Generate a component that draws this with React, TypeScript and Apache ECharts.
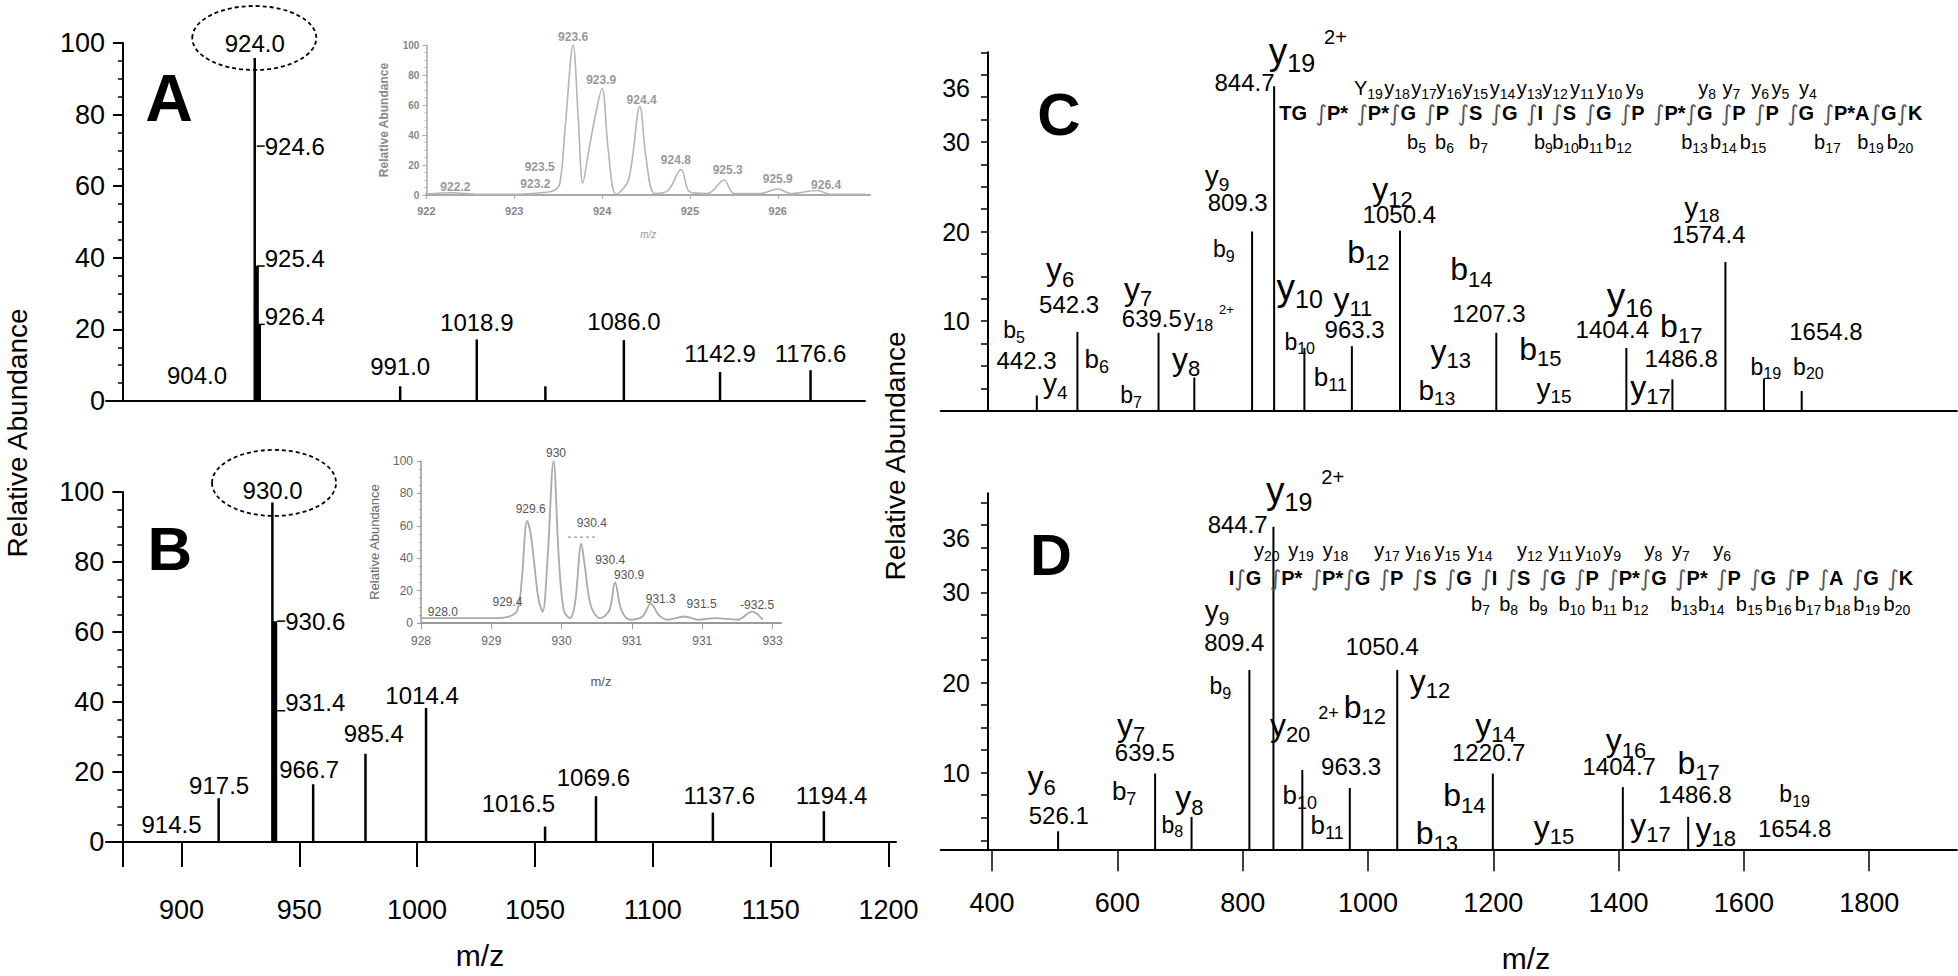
import React, { useEffect, useRef } from 'react';
import * as echarts from 'echarts';

const FONT = '"Liberation Sans", Arial, Helvetica, sans-serif';
const BLACK = '#000';

// ---------------- Panel A : precursor spectrum ----------------
// positions are read against the drawn m/z axis; texts are the printed peak labels
const aStickPos = [931.1, 992.8, 1025.3, 1054.4, 1087.7, 1128.5, 1166.9];
const aStickHeight = [95.8, 4.1, 17.2, 4.1, 17.0, 8.1, 8.6];
const aShoulderPos = [932.0, 932.9];
const aShoulderHeight = [37.7, 21.4];
const aSideLabel = ['924.6', '925.4', '926.4'];
const aSideHeight = [71.2, 37.7, 21.4];
const aSideAnchor = ['middle', 'bottom', 'bottom'];
const aPeakLabel = ['924.0', '904.0', '991.0', '1018.9', '1086.0', '1142.9', '1176.6'];
const aPeakLabelX = [931.1, 906.6, 992.8, 1025.3, 1087.7, 1128.5, 1166.9];
const aPeakLabelY = [100.0, 7.1, 9.7, 21.9, 22.2, 13.3, 13.3];
const aCircled = [930.9, 101.4];

// ---------------- Panel B ----------------
const bStickPos = [915.8, 938.6, 955.9, 978.1, 1003.8, 1054.3, 1075.9, 1125.5, 1172.6];
const bStickHeight = [12.5, 97.0, 16.5, 25.2, 38.3, 4.4, 13.1, 8.4, 8.8];
const bShoulderPos = [939.7];
const bShoulderHeight = [63.1];
const bSideLabel = ['930.6', '931.4'];
const bSideHeight = [63.1, 37.5];
const bSideAnchor = ['middle', 'bottom'];
const bPeakLabel = ['930.0', '914.5', '917.5', '966.7', '985.4', '1014.4', '1016.5', '1069.6', '1137.6', '1194.4'];
const bPeakLabelX = [938.7, 895.8, 916.0, 954.2, 981.6, 1002.1, 1043.0, 1074.8, 1128.2, 1175.9];
const bPeakLabelY = [100.5, 4.9, 16.1, 20.7, 31.0, 42.0, 10.9, 18.4, 13.3, 13.3];
const bCircled = [939.3, 102.6];
const bTickValues = [875, 900, 950, 1000, 1050, 1100, 1150, 1200];
const bTickLabels = [900, 950, 1000, 1050, 1100, 1150, 1200];
const abYTicks = [0, 20, 40, 60, 80, 100];

// ---------------- Inset of A (isotope envelope) ----------------
const insetAX = [921.95, 922.3, 922.6, 923.0, 923.3, 923.45, 923.52, 923.58, 923.67, 923.73, 923.78, 923.85, 923.92, 924.0, 924.07, 924.16, 924.3, 924.43, 924.5, 924.6, 924.75, 924.9, 925.0, 925.2, 925.39, 925.5, 925.8, 926.0, 926.15, 926.45, 926.6, 927.0];
const insetAY = [0.5, 1.5, 0.5, 0.5, 1.5, 3, 8, 45, 100, 50, 8, 30, 52, 71, 30, 0.5, 10, 59, 25, 1, 3, 17, 2, 1, 10, 1, 1, 4, 1, 3, 0.5, 0.5];
const insetALabel = ['923.6', '923.9', '924.4', '923.5', '923.2', '922.2', '924.8', '925.3', '925.9', '926.4'];
const insetALabelX = [923.67, 923.99, 924.45, 923.29, 923.24, 922.33, 924.84, 925.43, 926.0, 926.55];
const insetALabelY = [105.5, 76.7, 63.1, 18.9, 7.3, 5.6, 23.3, 16.7, 10.4, 6.7];
const insetATicks = [922, 923, 924, 925, 926];

// ---------------- Inset of B ----------------
const insetBX = [928.0, 928.5, 929.0, 929.25, 929.37, 929.43, 929.51, 929.56, 929.61, 929.67, 929.73, 929.8, 929.885, 929.96, 930.03, 930.115, 930.19, 930.28, 930.33, 930.42, 930.55, 930.68, 930.76, 930.85, 930.98, 931.15, 931.27, 931.38, 931.5, 931.75, 931.95, 932.18, 932.5, 932.71, 932.86];
const insetBY = [3, 3, 3, 4, 8, 25, 63, 55, 37, 15, 7, 40, 100, 40, 8, 3, 12, 49, 35, 10, 3, 8, 25, 8, 2, 4, 12, 5, 2, 4, 2, 3, 2, 7, 2];
const insetBLabel = ['930', '929.6', '930.4', '930.4', '930.9', '931.3', '931.5', '-932.5', '929.4', '928.0'];
const insetBLabelX = [929.92, 929.56, 930.43, 930.69, 930.96, 931.41, 931.99, 932.78, 929.23, 928.31];
const insetBLabelY = [104.7, 70.2, 61.6, 39.0, 29.4, 15.0, 11.9, 11.3, 12.9, 6.8];
const insetBTickValues = [928, 929, 930, 931, 932, 933];
const insetBTickText = ['928', '929', '930', '931', '931', '933'];
const insetBDashX = [930.09, 930.48];
const insetBDashY = [53, 53];

// ---------------- Panel C : MS/MS ----------------
const cStickPos = [471.4, 536.2, 665.7, 722.8, 815.0, 850.2, 898.5, 974.3, 1051.1, 1204.8, 1412.4, 1485.9, 1570.5, 1632.0, 1692.3];
const cStickHeight = [1.7, 8.8, 8.7, 3.7, 20.0, 36.2, 7.0, 7.2, 20.1, 8.7, 7.0, 3.5, 16.6, 3.6, 2.2];
const cAnnoText = ['y19^2+', '844.7', 'y9', '809.3', 'b9', 'y6', '542.3', 'b5', '442.3', 'y4', 'b6', 'y7', '639.5', 'y18^2+', 'b7', 'y8', 'y12', '1050.4', 'b12', 'y10', 'y11', '963.3', 'b10', 'b11', 'b14', '1207.3', 'y13', 'b13', 'b15', 'y15', 'y16', '1404.4', 'b17', '1486.8', 'y17', 'y18', '1574.4', '1654.8', 'b19', 'b20'];
const cAnnoX = [904, 803, 759, 792, 770, 508.7, 523, 435, 455, 501, 567, 633, 655, 746, 622, 709.6, 1039, 1050, 1000.6, 891, 976, 978.7, 891, 940, 1165, 1193, 1132, 1110, 1275, 1297, 1418, 1390, 1500, 1500, 1451, 1533, 1544, 1731, 1635, 1703];
const cAnnoY = [40.1, 36.6, 26.2, 23.2, 18.0, 15.8, 11.9, 9.0, 5.6, 3.0, 5.8, 13.6, 10.3, 10.3, 1.7, 5.8, 24.7, 21.9, 17.7, 13.8, 12.5, 9.1, 7.7, 3.8, 15.8, 10.8, 6.7, 2.3, 6.9, 2.5, 12.7, 9.1, 9.5, 5.8, 2.7, 22.7, 19.7, 8.8, 4.9, 4.9];
const cAnnoClass = ['XL', 'n', 'M', 'n', 'S', 'L', 'n', 'S', 'n', 'M', 'N', 'L', 'n', 'S', 'S', 'L', 'L', 'n', 'L', 'XL', 'L', 'n', 'S', 'N', 'L', 'n', 'L', 'M', 'L', 'M', 'XL', 'n', 'L', 'n', 'L', 'M', 'n', 'n', 'S', 'S'];
const cSeq = 'TG |P* |P*|G |P |S |G |I |S |G |P |P*|G |P |P |G |P*A|G|K';
const cSeqPos = [1371.8, 33.2];
const cYIons = ['Y19', 'y18', 'y17', 'y16', 'y15', 'y14', 'y13', 'y12', 'y11', 'y10', 'y9', 'y8', 'y7', 'y6', 'y5', 'y4'];
const cYIonX = [1000.6, 1046.2, 1089.3, 1129.5, 1171.3, 1214.7, 1257.7, 1298.5, 1341.9, 1385.5, 1425.7, 1541.3, 1580.2, 1626.0, 1658.4, 1702.0];
const cYIonLevel = 36.0;
const cBIons = ['b5', 'b6', 'b7', 'b9', 'b10', 'b11', 'b12', 'b13', 'b14', 'b15', 'b17', 'b19', 'b20'];
const cBIonX = [1077.4, 1122.1, 1176.4, 1280.1, 1315.3, 1355.2, 1399.8, 1521.2, 1567.4, 1614.5, 1733.4, 1802.1, 1849.2];
const cBIonLevel = 30.0;
const cdYTicksC = [0, 2.5, 5, 7.5, 10, 12.5, 15, 17.5, 20, 22.5, 25, 27.5, 30, 32.5, 35, 37.5, 40];
const cdYLabels = [10, 20, 30, 36];

// ---------------- Panel D ----------------
const dStickPos = [505.4, 660.2, 718.4, 810.7, 849.1, 895.2, 971.0, 1046.7, 1199.3, 1406.8, 1511.1];
const dStickHeight = [3.5, 9.9, 5.1, 21.4, 37.3, 10.3, 8.3, 21.4, 9.9, 8.4, 5.1];
const dAnnoText = ['y19^2+', '844.7', 'y9', '809.4', 'b9', 'y20^2+', 'b12', '1050.4', 'y12', 'y7', '639.5', 'b7', 'y6', '526.1', 'y8', 'b8', 'b10', '963.3', 'b11', 'y14', '1220.7', 'b14', 'b13', 'y15', 'y16', '1404.7', 'b17', '1486.8', 'y17', 'y18', 'b19', '1654.8'];
const dAnnoX = [899.6, 792, 759, 786.5, 764.5, 898.5, 995, 1022.6, 1099, 621.8, 643.8, 610.8, 479, 506.5, 715, 687.7, 891, 973, 934.7, 1203.7, 1192.7, 1154, 1110, 1297, 1412, 1401, 1527.6, 1522, 1451, 1555, 1681, 1681];
const dAnnoY = [41.3, 37.5, 28.0, 24.4, 19.6, 15.3, 17.3, 24.0, 20.2, 15.3, 12.2, 8.0, 9.5, 5.3, 7.3, 4.2, 7.5, 10.7, 4.2, 15.3, 12.2, 7.5, 3.3, 4.0, 13.6, 10.7, 11.1, 7.6, 4.2, 3.8, 7.6, 3.8];
const dAnnoClass = ['XL', 'n', 'M', 'n', 'S', 'L', 'L', 'n', 'L', 'L', 'n', 'N', 'L', 'n', 'L', 'S', 'N', 'n', 'N', 'L', 'n', 'L', 'L', 'L', 'L', 'n', 'L', 'n', 'L', 'L', 'S', 'n'];
const dSeq = 'I|G |P* |P*|G |P |S |G |I |S |G |P |P*|G |P* |P |G |P |A |G |K';
const dSeqPos = [1324.0, 31.6];
const dYIons = ['y20', 'y19', 'y18', 'y17', 'y16', 'y15', 'y14', 'y12', 'y11', 'y10', 'y9', 'y8', 'y7', 'y6'];
const dYIonX = [838.3, 893.2, 948.1, 1030.3, 1079.8, 1126.4, 1178.5, 1258.1, 1307.4, 1351.3, 1389.8, 1455.5, 1499.6, 1565.4];
const dYIonLevel = 34.7;
const dBIons = ['b7', 'b8', 'b9', 'b10', 'b11', 'b12', 'b13', 'b14', 'b15', 'b16', 'b17', 'b18', 'b19', 'b20'];
const dBIonX = [1179.6, 1224.6, 1271.7, 1325.2, 1377.1, 1426.4, 1504.3, 1547.9, 1608.4, 1655.3, 1702.3, 1749.0, 1795.9, 1844.2];
const dBIonLevel = 28.7;
const cdYTicksD = [2.5, 5, 7.5, 10, 12.5, 15, 17.5, 20, 22.5, 25, 27.5, 30, 32.5, 35, 37.5, 40];
const cdXTicks = [400, 600, 800, 1000, 1200, 1400, 1600, 1800];

// ---------------- text styling helpers ----------------
const plain = (v: number) => String(v);
const ionSizes: Record<string, number> = { XL: 37, L: 32, M: 28, N: 26, S: 23, R: 20 };
const RICH: Record<string, any> = {};
Object.keys(ionSizes).forEach((k) => {
  const F = ionSizes[k];
  RICH[k + 'm'] = { fontSize: F, fontFamily: FONT, fill: BLACK, lineHeight: Math.round(F * 1.3) };
  RICH[k + 's'] = { fontSize: Math.round(F * 0.68), fontFamily: FONT, fill: BLACK, lineHeight: Math.round(F * 0.68), verticalAlign: 'bottom' };
  RICH[k + 'p'] = { fontSize: Math.round(F * 0.55), fontFamily: FONT, fill: BLACK, lineHeight: Math.round(F * 0.55), verticalAlign: 'top', padding: [0, 0, 0, Math.round(F * 0.25)] };
});
RICH.q = { fontSize: 20, fontWeight: 'bold', fontFamily: FONT, fill: BLACK, lineHeight: 26 };
RICH.k = { fontSize: 22, fontFamily: '"DejaVu Sans", sans-serif', fill: '#555', lineHeight: 26 };
RICH.w = { fontSize: 30, fontFamily: FONT, fill: BLACK, lineHeight: 26 };

function ionRich(label: string, cls: string): string {
  const m = label.match(/^([A-Za-z]+)(\d*)(?:\^(.+))?$/);
  if (!m) return label;
  let s = `{${cls}m|${m[1]}}`;
  if (m[2]) s += `{${cls}s|${m[2]}}`;
  if (m[3]) s += `{${cls}p|${m[3]}}`;
  return s;
}

function seqRich(seq: string): string {
  const parts = seq.match(/[A-Z*]+|\||\s+/g) || [];
  return parts
    .map((p) => (p === '|' ? '{k|\u222B}' : /^\s+$/.test(p) ? `{w|${p}}` : `{q|${p}}`))
    .join('');
}

function stickSeries(idx: number, xs: number[], hs: number[], width: number, base: number, color = BLACK) {
  return {
    type: 'custom',
    xAxisIndex: idx,
    yAxisIndex: idx,
    silent: true,
    z: 3,
    data: xs.map((x, i) => [x, hs[i]]),
    renderItem: (params: any, api: any) => {
      const x = api.value(0);
      const h = api.value(1);
      const p0 = api.coord([x, base]);
      const p1 = api.coord([x, h]);
      return {
        type: 'line',
        shape: { x1: p0[0], y1: p0[1], x2: p1[0], y2: p1[1] },
        style: { stroke: color, lineWidth: width },
      };
    },
  };
}

function textSeries(
  idx: number,
  xs: number[],
  ys: number[],
  texts: string[],
  classes: string[] | null,
  opts: { align?: string; color?: string; size?: number; weight?: string } = {}
) {
  return {
    type: 'custom',
    xAxisIndex: idx,
    yAxisIndex: idx,
    silent: true,
    z: 5,
    data: xs.map((x, i) => [x, ys[i]]),
    renderItem: (params: any, api: any) => {
      const i = params.dataIndex;
      const p = api.coord([api.value(0), api.value(1)]);
      const cls = classes ? classes[i] : 'n';
      const text = cls === 'n' ? texts[i] : ionRich(texts[i], cls);
      return {
        type: 'text',
        x: p[0],
        y: p[1],
        style: {
          text,
          rich: RICH,
          align: opts.align || 'center',
          verticalAlign: 'middle',
          fontSize: opts.size || 24,
          fontFamily: FONT,
          fontWeight: opts.weight || 'normal',
          fill: opts.color || BLACK,
        },
      };
    },
  };
}

function richSingle(idx: number, pos: number[], text: string) {
  return {
    type: 'custom',
    xAxisIndex: idx,
    yAxisIndex: idx,
    silent: true,
    z: 5,
    data: [pos],
    renderItem: (params: any, api: any) => {
      const p = api.coord([api.value(0), api.value(1)]);
      return {
        type: 'text',
        x: p[0],
        y: p[1],
        style: { text, rich: RICH, align: 'center', verticalAlign: 'middle', fontFamily: FONT, fill: BLACK },
      };
    },
  };
}

function sideLabelSeries(idx: number, x: number, hs: number[], labels: string[], anchors: string[]) {
  return {
    type: 'custom',
    xAxisIndex: idx,
    yAxisIndex: idx,
    silent: true,
    z: 5,
    data: hs.map((h) => [x, h]),
    renderItem: (params: any, api: any) => {
      const i = params.dataIndex;
      const p = api.coord([api.value(0), api.value(1)]);
      const mid = anchors[i] === 'middle';
      return {
        type: 'group',
        children: [
          { type: 'line', shape: { x1: p[0] + 2, y1: p[1], x2: p[0] + 10, y2: p[1] }, style: { stroke: BLACK, lineWidth: 1.5 } },
          {
            type: 'text',
            x: p[0] + 10,
            y: mid ? p[1] : p[1] + 4,
            style: { text: labels[i], align: 'left', verticalAlign: mid ? 'middle' : 'bottom', fontSize: 24, fontFamily: FONT, fill: BLACK },
          },
        ],
      };
    },
  };
}

function ellipseSeries(idx: number, c: number[], rx: number, ry: number) {
  return {
    type: 'custom',
    xAxisIndex: idx,
    yAxisIndex: idx,
    silent: true,
    z: 4,
    data: [c],
    renderItem: (params: any, api: any) => {
      const p = api.coord([api.value(0), api.value(1)]);
      return {
        type: 'ellipse',
        shape: { cx: p[0], cy: p[1], rx, ry },
        style: { fill: 'none', stroke: BLACK, lineWidth: 1.8, lineDash: [4, 3] },
      };
    },
  };
}

function mainYAxis(idx: number, offset: number) {
  return {
    gridIndex: idx,
    type: 'value',
    min: 0,
    max: 100,
    interval: 20,
    offset,
    axisLine: { show: true, onZero: false, lineStyle: { color: BLACK, width: 2 } },
    axisTick: { show: true, length: 10, lineStyle: { color: BLACK, width: 2 } },
    minorTick: { show: true, splitNumber: 4, length: 5, lineStyle: { color: BLACK, width: 1.5 } },
    axisLabel: { customValues: abYTicks, fontSize: 27, color: BLACK, fontFamily: FONT, margin: 18, formatter: plain },
    splitLine: { show: false },
    minorSplitLine: { show: false },
  };
}

function cdYAxis(idx: number, min: number, max: number, ticks: number[]) {
  return {
    gridIndex: idx,
    type: 'value',
    min,
    max,
    offset: -47.3,
    axisLine: { show: true, onZero: false, lineStyle: { color: BLACK, width: 2 } },
    axisTick: { show: true, customValues: ticks, length: 7, lineStyle: { color: BLACK, width: 1.5 } },
    axisLabel: { customValues: cdYLabels, fontSize: 25, color: BLACK, fontFamily: FONT, margin: 18, formatter: plain },
    splitLine: { show: false },
  };
}

function buildOption() {
  const gridBase = { containLabel: false, outerBoundsMode: 'none' };
  return {
    animation: false,
    backgroundColor: '#fff',
    textStyle: { fontFamily: FONT },
    grid: [
      { ...gridBase, left: 106, top: 43, width: 759, height: 358 },
      { ...gridBase, left: 106, top: 492, width: 790, height: 350 },
      { ...gridBase, left: 426.4, top: 45, width: 443.6, height: 150 },
      { ...gridBase, left: 421, top: 461, width: 360, height: 162 },
      { ...gridBase, left: 940.7, top: 52.3, width: 1016.2, height: 358.4 },
      { ...gridBase, left: 940.7, top: 493.3, width: 1016.2, height: 356 },
    ],
    xAxis: [
      {
        gridIndex: 0, type: 'value', min: 868, max: 1190,
        axisLine: { show: true, onZero: false, lineStyle: { color: BLACK, width: 2 } },
        axisTick: { show: false }, axisLabel: { show: false }, splitLine: { show: false },
      },
      {
        gridIndex: 1, type: 'value', min: 868, max: 1203.2,
        axisLine: { show: true, onZero: false, lineStyle: { color: BLACK, width: 2 } },
        axisTick: { show: true, customValues: bTickValues, length: 25, lineStyle: { color: BLACK, width: 2 } },
        axisLabel: { customValues: bTickLabels, fontSize: 27, color: BLACK, fontFamily: FONT, margin: 54, formatter: plain },
        splitLine: { show: false },
      },
      {
        gridIndex: 2, type: 'value', min: 922, max: 927.05,
        axisLine: { show: true, onZero: false, lineStyle: { color: '#aaa', width: 2 } },
        axisTick: { show: true, customValues: insetATicks, length: 4, lineStyle: { color: '#aaa' } },
        axisLabel: { customValues: insetATicks, fontSize: 11, color: '#888', fontWeight: 'bold', margin: 10, formatter: plain },
        splitLine: { show: false },
        name: 'm/z', nameLocation: 'middle', nameGap: 34,
        nameTextStyle: { fontSize: 10, color: '#999', fontStyle: 'italic' },
      },
      {
        gridIndex: 3, type: 'value', min: 928, max: 933.12,
        axisLine: { show: true, onZero: false, lineStyle: { color: '#999', width: 2 } },
        axisTick: { show: true, customValues: insetBTickValues, length: 6, lineStyle: { color: '#999' } },
        axisLabel: {
          customValues: insetBTickValues, fontSize: 12, color: '#666', margin: 12,
          formatter: (v: number) => insetBTickText[insetBTickValues.indexOf(Math.round(v))] || '',
        },
        splitLine: { show: false },
        name: 'm/z', nameLocation: 'middle', nameGap: 52,
        nameTextStyle: { fontSize: 13, color: '#555' },
      },
      {
        gridIndex: 4, type: 'value', min: 318, max: 1940,
        axisLine: { show: true, onZero: false, lineStyle: { color: BLACK, width: 2 } },
        axisTick: { show: false }, axisLabel: { show: false }, splitLine: { show: false },
      },
      {
        gridIndex: 5, type: 'value', min: 318, max: 1940,
        axisLine: { show: true, onZero: false, lineStyle: { color: BLACK, width: 2 } },
        axisTick: { show: true, customValues: cdXTicks, length: 22, lineStyle: { color: BLACK, width: 1.5 } },
        axisLabel: { customValues: cdXTicks, fontSize: 27, color: BLACK, fontFamily: FONT, margin: 40, formatter: plain },
        splitLine: { show: false },
      },
    ],
    yAxis: [
      mainYAxis(0, -17),
      mainYAxis(1, -16.4),
      {
        gridIndex: 2, type: 'value', min: 0, max: 100, interval: 20,
        axisLine: { show: true, onZero: false, lineStyle: { color: '#aaa', width: 1.5 } },
        axisTick: { show: true, length: 4, lineStyle: { color: '#aaa' } },
        minorTick: { show: true, splitNumber: 4, length: 2, lineStyle: { color: '#bbb' } },
        axisLabel: { fontSize: 10, color: '#888', fontWeight: 'bold', margin: 7 },
        splitLine: { show: false },
        name: 'Relative Abundance', nameLocation: 'middle', nameGap: 36, nameRotate: 90,
        nameTextStyle: { fontSize: 12, color: '#888', fontWeight: 'bold' },
      },
      {
        gridIndex: 3, type: 'value', min: 0, max: 100, interval: 20,
        axisLine: { show: true, onZero: false, lineStyle: { color: '#999', width: 1.5 } },
        axisTick: { show: true, length: 4, lineStyle: { color: '#999' } },
        minorTick: { show: true, splitNumber: 4, length: 2, lineStyle: { color: '#aaa' } },
        axisLabel: { fontSize: 12, color: '#666', margin: 8 },
        splitLine: { show: false },
        name: 'Relative Abundance', nameLocation: 'middle', nameGap: 40, nameRotate: 90,
        nameTextStyle: { fontSize: 13, color: '#666' },
      },
      cdYAxis(4, 0, 40, cdYTicksC),
      cdYAxis(5, 1.5, 41, cdYTicksD),
    ],
    series: [
      // Panel A
      stickSeries(0, aStickPos, aStickHeight, 2.5, 0),
      stickSeries(0, aShoulderPos, aShoulderHeight, 4, 0),
      sideLabelSeries(0, aStickPos[0], aSideHeight, aSideLabel, aSideAnchor),
      textSeries(0, aPeakLabelX, aPeakLabelY, aPeakLabel, null, { size: 24 }),
      ellipseSeries(0, aCircled, 62, 32),
      // Panel B
      stickSeries(1, bStickPos, bStickHeight, 2.5, 0),
      stickSeries(1, bShoulderPos, bShoulderHeight, 4.5, 0),
      sideLabelSeries(1, bStickPos[1] + 1.2, bSideHeight, bSideLabel, bSideAnchor),
      textSeries(1, bPeakLabelX, bPeakLabelY, bPeakLabel, null, { size: 24 }),
      ellipseSeries(1, bCircled, 62, 33),
      // Inset A
      {
        type: 'line', xAxisIndex: 2, yAxisIndex: 2, silent: true, showSymbol: false, smooth: 0.35,
        data: insetAX.map((x, i) => [x, insetAY[i]]),
        lineStyle: { color: '#b5b5b5', width: 1.6 },
      },
      textSeries(2, insetALabelX, insetALabelY, insetALabel, null, { size: 12, color: '#999', weight: 'bold' }),
      // Inset B
      {
        type: 'line', xAxisIndex: 3, yAxisIndex: 3, silent: true, showSymbol: false, smooth: 0.35,
        data: insetBX.map((x, i) => [x, insetBY[i]]),
        lineStyle: { color: '#aaa', width: 1.8 },
      },
      {
        type: 'line', xAxisIndex: 3, yAxisIndex: 3, silent: true, showSymbol: false,
        data: insetBDashX.map((x, i) => [x, insetBDashY[i]]),
        lineStyle: { color: '#999', width: 1.2, type: [3, 3] },
      },
      textSeries(3, insetBLabelX, insetBLabelY, insetBLabel, null, { size: 12, color: '#555' }),
      // Panel C
      stickSeries(4, cStickPos, cStickHeight, 2, 0),
      textSeries(4, cAnnoX, cAnnoY, cAnnoText, cAnnoClass, { size: 24 }),
      textSeries(4, cYIonX, cYIons.map(() => cYIonLevel), cYIons, cYIons.map(() => 'R')),
      textSeries(4, cBIonX, cBIons.map(() => cBIonLevel), cBIons, cBIons.map(() => 'R')),
      richSingle(4, cSeqPos, seqRich(cSeq)),
      // Panel D
      stickSeries(5, dStickPos, dStickHeight, 2, 1.5),
      textSeries(5, dAnnoX, dAnnoY, dAnnoText, dAnnoClass, { size: 24 }),
      textSeries(5, dYIonX, dYIons.map(() => dYIonLevel), dYIons, dYIons.map(() => 'R')),
      textSeries(5, dBIonX, dBIons.map(() => dBIonLevel), dBIons, dBIons.map(() => 'R')),
      richSingle(5, dSeqPos, seqRich(dSeq)),
    ],
    graphic: [
      { type: 'text', x: 169, y: 98, style: { text: 'A', fontSize: 66, fontWeight: 'bold', fontFamily: FONT, fill: BLACK, align: 'center', verticalAlign: 'middle' } },
      { type: 'text', x: 170, y: 548, style: { text: 'B', fontSize: 62, fontWeight: 'bold', fontFamily: FONT, fill: BLACK, align: 'center', verticalAlign: 'middle' } },
      { type: 'text', x: 1059, y: 114, style: { text: 'C', fontSize: 60, fontWeight: 'bold', fontFamily: FONT, fill: BLACK, align: 'center', verticalAlign: 'middle' } },
      { type: 'text', x: 1051, y: 554, style: { text: 'D', fontSize: 58, fontWeight: 'bold', fontFamily: FONT, fill: BLACK, align: 'center', verticalAlign: 'middle' } },
      { type: 'text', x: 17, y: 433, rotation: Math.PI / 2, style: { text: 'Relative Abundance', fontSize: 28, fontFamily: FONT, fill: BLACK, align: 'center', verticalAlign: 'middle' } },
      { type: 'text', x: 895, y: 456, rotation: Math.PI / 2, style: { text: 'Relative Abundance', fontSize: 28, fontFamily: FONT, fill: BLACK, align: 'center', verticalAlign: 'middle' } },
      { type: 'text', x: 480, y: 955, style: { text: 'm/z', fontSize: 30, fontFamily: FONT, fill: BLACK, align: 'center', verticalAlign: 'middle' } },
      { type: 'text', x: 1526, y: 958, style: { text: 'm/z', fontSize: 30, fontFamily: FONT, fill: BLACK, align: 'center', verticalAlign: 'middle' } },
    ],
  };
}

export default function App() {
  const ref = useRef<HTMLDivElement>(null);
  useEffect(() => {
    if (!ref.current) return;
    const chart = echarts.init(ref.current, null, { renderer: 'svg' });
    chart.setOption(buildOption() as any);
    return () => chart.dispose();
  }, []);
  return (
    <div
      ref={ref}
      style={{ position: 'absolute', left: 0, top: 0, width: 1958, height: 976, background: '#fff' }}
    />
  );
}
